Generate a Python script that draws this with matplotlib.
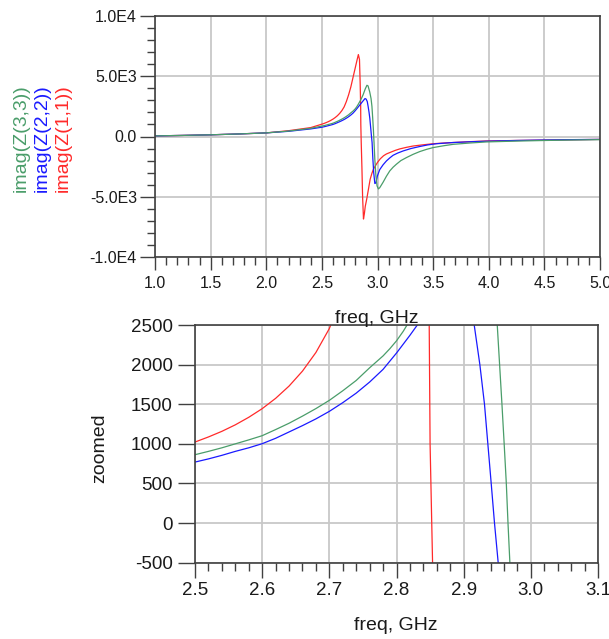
import matplotlib
matplotlib.use("Agg")
import matplotlib.pyplot as plt
from matplotlib.ticker import MultipleLocator, FixedLocator

plt.rcParams['font.family'] = ['Liberation Sans', 'DejaVu Sans']
plt.rcParams['axes.unicode_minus'] = False

# ---------------- data ----------------
red_f = [1.0, 1.25, 1.5, 1.75, 2.0, 2.2, 2.4, 2.5, 2.52, 2.54, 2.56, 2.58, 2.6, 2.62,
         2.64, 2.66, 2.68, 2.70, 2.72, 2.74, 2.76, 2.78, 2.80, 2.815, 2.828, 2.838,
         2.844, 2.8487, 2.8500, 2.8537, 2.86, 2.866, 2.874, 2.882, 2.89, 2.904, 2.92,
         2.934, 2.95, 2.964, 2.98, 3.0, 3.025, 3.054, 3.08, 3.114, 3.16, 3.2, 3.26,
         3.32, 3.4, 3.5, 3.6, 3.68, 3.83, 3.98, 4.25, 4.5, 4.75, 5.0]
red_v = [50, 90, 140, 210, 300, 480, 740, 1023, 1087, 1158, 1240, 1335, 1444, 1574,
         1729, 1918, 2153, 2455, 2900, 3450, 4100, 4900, 5700, 6300, 6800, 6400,
         4500, 2500, 1000, -500, -2600, -5000, -6850, -6400, -5800, -5150, -4300,
         -3550, -3050, -2700, -2450, -2150, -1850, -1600, -1450, -1320, -1150, -1030, -900,
         -790, -700, -600, -540, -500, -430, -370, -330, -300, -270, -240]

blue_f = [1.0, 1.25, 1.5, 1.75, 2.0, 2.2, 2.4, 2.5, 2.52, 2.54, 2.56, 2.58, 2.6, 2.62,
          2.64, 2.66, 2.68, 2.70, 2.72, 2.74, 2.76, 2.78, 2.80, 2.82, 2.831, 2.85,
          2.87, 2.888, 2.898, 2.908, 2.9157, 2.9241, 2.9310, 2.9360, 2.9410, 2.9459, 2.9514,
          2.958, 2.966, 2.976, 2.986, 2.998, 3.02, 3.05, 3.08, 3.11, 3.14, 3.18, 3.23,
          3.3, 3.38, 3.45, 3.53, 3.68, 3.83, 3.98, 4.25, 4.5, 4.75, 5.0]
blue_v = [50, 90, 140, 210, 300, 430, 630, 770, 810, 855, 905, 950, 1002, 1070,
          1150, 1230, 1315, 1410, 1520, 1640, 1780, 1940, 2146, 2370, 2500, 2720,
          2950, 3150, 3100, 2900, 2500, 2000, 1500, 1000, 500, 0, -500,
          -1800, -3000, -3900, -3850, -3300, -2750, -2350, -2030, -1780, -1560, -1380, -1200,
          -1000, -830, -700, -600, -500, -440, -390, -330, -290, -260, -240]

green_f = [1.0, 1.25, 1.5, 1.75, 2.0, 2.2, 2.4, 2.5, 2.52, 2.54, 2.56, 2.58, 2.6, 2.62,
           2.64, 2.66, 2.68, 2.70, 2.72, 2.74, 2.76, 2.78, 2.79, 2.80, 2.81, 2.82, 2.83,
           2.85, 2.87, 2.89, 2.905, 2.915, 2.93, 2.942, 2.950, 2.9535, 2.957, 2.9603,
           2.9635, 2.966, 2.9688, 2.976, 2.986, 2.996, 3.008, 3.02, 3.05, 3.08, 3.11,
           3.14, 3.17, 3.21, 3.26, 3.32, 3.38, 3.44, 3.5, 3.6, 3.68, 3.83, 3.98, 4.25,
           4.5, 4.75, 5.0]
green_v = [50, 90, 140, 210, 300, 450, 680, 863, 905, 950, 1000, 1050, 1103, 1180,
           1260, 1350, 1445, 1549, 1670, 1800, 1960, 2110, 2200, 2300, 2420, 2560, 2720,
           3050, 3450, 3950, 4250, 4200, 3700, 3150, 2500, 2000, 1500, 1000,
           500, 0, -500, -1900, -3300, -4100, -4350, -4250, -3800, -3300, -2860,
           -2550, -2300, -2000, -1750, -1480, -1250, -1070, -920, -760, -650, -540, -450, -380,
           -330, -290, -260]

legend_labels = ["imag(Z(3,3))", "imag(Z(2,2))", "imag(Z(1,1))"]
top_yticks = [-1e4, -5e3, 0, 5e3, 1e4]
top_yticklabels = ["-1.0E4", "-5.0E3", "0.0", "5.0E3", "1.0E4"]
top_xticks = [1.0, 1.5, 2.0, 2.5, 3.0, 3.5, 4.0, 4.5, 5.0]
bot_xticks = [2.5, 2.6, 2.7, 2.8, 2.9, 3.0, 3.1]
bot_yticks = [-500, 0, 500, 1000, 1500, 2000, 2500]

RED = '#ff2a2a'
BLUE = '#1a1aff'
GREEN = '#4a9d6a'
SPINE = '#404040'
GRID = '#c8c8c8'
TXT = '#1a1a1a'

W, H = 609, 639
fig = plt.figure(figsize=(W / 100, H / 100), dpi=100)

def px_axes(l, r, t, b):
    return fig.add_axes([l / W, 1 - b / H, (r - l) / W, (b - t) / H])

def style(ax):
    for s in ax.spines.values():
        s.set_color(SPINE)
        s.set_linewidth(1.2)
    ax.set_axisbelow(True)
    ax.grid(True, which='major', color=GRID, linewidth=1.3)
    ax.tick_params(which='both', colors=SPINE, labelcolor=TXT, direction='out',
                   top=False, right=False)

# ---------------- top plot ----------------
ax1 = px_axes(155, 600, 16, 257)
style(ax1)
ax1.plot(red_f, red_v, color=RED, lw=0.9)
ax1.plot(blue_f, blue_v, color=BLUE, lw=0.9)
ax1.plot(green_f, green_v, color=GREEN, lw=0.9)
ax1.set_xlim(1.0, 5.0)
ax1.set_ylim(-1e4, 1e4)
ax1.xaxis.set_major_locator(FixedLocator(top_xticks))
ax1.set_xticklabels([f"{v:.1f}" for v in top_xticks])
ax1.xaxis.set_minor_locator(MultipleLocator(0.1))
ax1.yaxis.set_major_locator(FixedLocator(top_yticks))
ax1.set_yticklabels(top_yticklabels)
ax1.yaxis.set_minor_locator(MultipleLocator(1000))
ax1.tick_params(axis='y', which='major', length=11, width=1.0, pad=2, labelsize=11.5)
ax1.tick_params(axis='y', which='minor', length=6, width=1.0)
ax1.tick_params(axis='x', which='major', length=9.5, width=1.0, pad=4, labelsize=11.5)
ax1.tick_params(axis='x', which='minor', length=6, width=1.0)
ax1.grid(False, which='minor')

# ---------------- bottom plot ----------------
ax2 = px_axes(195, 598, 325, 562.7)
style(ax2)
ax2.plot(red_f, red_v, color=RED, lw=0.9)
ax2.plot(blue_f, blue_v, color=BLUE, lw=0.9)
ax2.plot(green_f, green_v, color=GREEN, lw=0.9)
ax2.set_xlim(2.5, 3.1)
ax2.set_ylim(-500, 2500)
ax2.xaxis.set_major_locator(FixedLocator(bot_xticks))
ax2.set_xticklabels([f"{v:.1f}" for v in bot_xticks])
ax2.xaxis.set_minor_locator(MultipleLocator(0.02))
ax2.yaxis.set_major_locator(FixedLocator(bot_yticks))
ax2.set_yticklabels([str(v) for v in bot_yticks])
ax2.tick_params(axis='y', which='major', length=12, width=1.0, pad=4, labelsize=13.5)
ax2.tick_params(axis='x', which='major', length=11, width=1.0, pad=3, labelsize=13.5)
ax2.tick_params(axis='x', which='minor', length=6, width=1.0)

# ---------------- labels ----------------
fig.text(377 / W, 1 - 318 / H, "freq, GHz", ha='center', va='center', fontsize=14, color=TXT)
fig.text(396 / W, 1 - 625 / H, "freq, GHz", ha='center', va='center', fontsize=14, color=TXT)
fig.text(100 / W, 1 - 448 / H, "zoomed", ha='center', va='center', rotation=90,
         fontsize=14, color=TXT)
for x, lab, col in zip([21.5, 42.5, 63.5], legend_labels, [GREEN, BLUE, RED]):
    fig.text(x / W, 1 - 138 / H, lab, ha='center', va='center', rotation=90,
             fontsize=14, color=col)

fig.savefig("out.png", dpi=100)
